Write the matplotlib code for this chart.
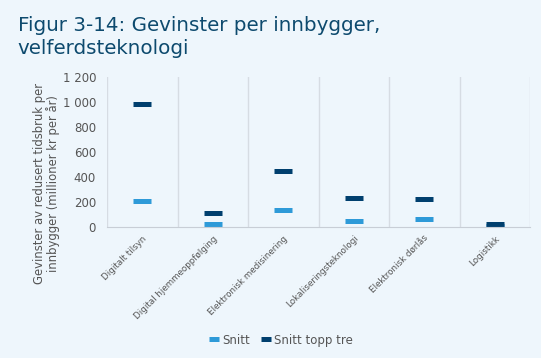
import matplotlib.pyplot as plt
from matplotlib.ticker import FuncFormatter, FixedLocator

categories = ["Digitalt tilsyn", "Digital hjemmeoppfølging", "Elektronisk medisinering",
              "Lokaliseringsteknologi", "Elektronisk dørlås", "Logistikk"]
snitt = [210, 25, 133, 48, 61, 10]
snitt_topp_tre = [980, 115, 450, 232, 227, 20]

bg = "#EEF6FC"
light = "#2E9AD8"
dark = "#003F6E"
grey = "#555555"

plt.rcParams['font.family'] = ['DejaVu Sans']

fig = plt.figure(figsize=(5.41, 3.58), dpi=100, facecolor=bg)
ax = fig.add_axes([0.198, 0.366, 0.782, 0.419])
ax.set_facecolor(bg)

x = list(range(len(categories)))
ax.plot(x, snitt, linestyle='none', marker='_', markersize=13, markeredgewidth=3.6,
        color=light, label="Snitt")
ax.plot(x, snitt_topp_tre, linestyle='none', marker='_', markersize=13, markeredgewidth=3.6,
        color=dark, label="Snitt topp tre")

ax.set_xlim(-0.5, len(categories) - 0.5)
ax.set_ylim(0, 1200)
ax.set_yticks(range(0, 1201, 200))
ax.yaxis.set_major_formatter(FuncFormatter(lambda v, p: f"{int(v):,}".replace(",", " ")))
ax.set_xticks(x)
ax.set_xticklabels(categories, rotation=45, ha='right', rotation_mode='anchor',
                   fontsize=6.3, color=grey)
ax.xaxis.set_minor_locator(FixedLocator([i - 0.5 for i in range(len(categories) + 1)]))
ax.grid(which='minor', axis='x', color="#D6DCE3", linewidth=1)
ax.tick_params(axis='both', which='both', length=0)
ax.tick_params(axis='y', labelsize=8.5, labelcolor=grey, pad=8)
ax.tick_params(axis='x', pad=5)
for s in ['top', 'right', 'left']:
    ax.spines[s].set_visible(False)
ax.spines['bottom'].set_color("#C8CED6")

ax.set_ylabel("Gevinster av redusert tidsbruk per\ninnbygger (millioner kr per år)",
              fontsize=8.4, color=grey, linespacing=1.0)
ax.yaxis.set_label_coords(-0.111, 0.29)

fig.text(0.033, 0.955, "Figur 3-14: Gevinster per innbygger,\nvelferdsteknologi",
         fontsize=14.3, color="#0D4A6E", va='top', ha='left', linespacing=1.25)

leg = fig.legend(loc='center', bbox_to_anchor=(0.52, 0.05), ncol=2, frameon=False,
                 fontsize=8.5, handlelength=0.8, handletextpad=0.3, columnspacing=0.9,
                 markerscale=0.55)
for t in leg.get_texts():
    t.set_color(grey)

fig.savefig("out.png", dpi=100, facecolor=bg)
